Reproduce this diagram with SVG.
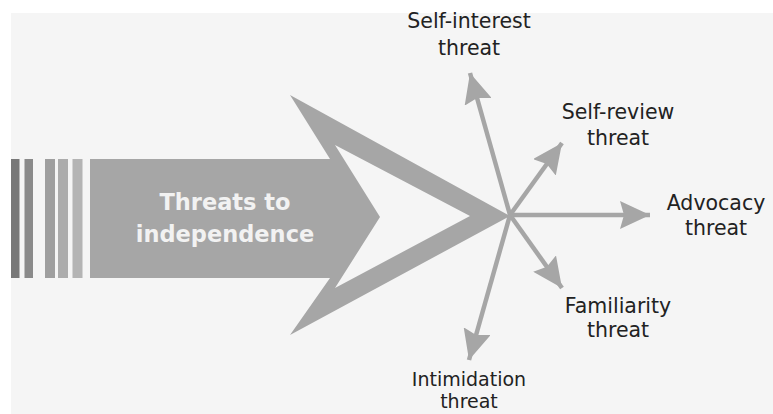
<svg xmlns="http://www.w3.org/2000/svg" width="773" height="414" viewBox="0 0 773 414">
<style>
.lbl{font-family:"DejaVu Sans","Liberation Sans",sans-serif;font-size:20.5px;fill:#222;text-anchor:middle}
.sm{font-size:19px}
.main{font-family:"DejaVu Sans","Liberation Sans",sans-serif;font-size:22.5px;font-weight:bold;fill:#f2f2f2;text-anchor:middle}
.spoke{stroke:#a6a6a6;stroke-width:4.5;fill:none;marker-end:url(#ah)}
</style>
<defs>
<marker id="ah" markerUnits="userSpaceOnUse" markerWidth="30" markerHeight="28" viewBox="0 0 30 28" refX="30" refY="14" orient="auto">
<path d="M0,0 L30,14 L0,28 L4,14 z" fill="#a6a6a6"/>
</marker>
</defs>
<rect x="0" y="0" width="773" height="414" fill="#ffffff"/>
<rect x="11" y="13" width="762" height="401" fill="#f5f5f5"/>
<g id="bars">
<rect x="11" y="159" width="8.5" height="119" fill="#787878"/>
<rect x="24.5" y="159" width="8.5" height="119" fill="#8a8a8a"/>
<rect x="45" y="159" width="10" height="119" fill="#9f9f9f"/>
<rect x="58" y="159" width="10" height="119" fill="#acacac"/>
<rect x="72.5" y="159" width="10" height="119" fill="#b4b4b4"/>
</g>
<g id="main-arrow">
<path d="M90,159 L330,159 L290,95 L510,216 L290,335 L330,278 L90,278 Z M335,145 L380,217 L335,288 L470,216 Z" fill="#a6a6a6" fill-rule="evenodd"/>
<text class="main" x="225" y="210">Threats to</text>
<text class="main" x="225" y="242">independence</text>
</g>
<g id="connectors">
<line class="spoke" x1="510" y1="215" x2="470" y2="73"/>
<line class="spoke" x1="510" y1="215" x2="562" y2="143"/>
<line class="spoke" x1="510" y1="215" x2="650" y2="215"/>
<line class="spoke" x1="510" y1="215" x2="562" y2="288"/>
<line class="spoke" x1="510" y1="215" x2="469" y2="360"/>
</g>
<g id="self-interest"><text class="lbl" x="469" y="28">Self-interest</text><text class="lbl" x="469" y="55">threat</text></g>
<g id="self-review"><text class="lbl" x="618" y="119">Self-review</text><text class="lbl" x="618" y="145">threat</text></g>
<g id="advocacy"><text class="lbl" x="716" y="210">Advocacy</text><text class="lbl" x="716" y="235">threat</text></g>
<g id="familiarity"><text class="lbl" x="618" y="313">Familiarity</text><text class="lbl" x="618" y="337">threat</text></g>
<g id="intimidation"><text class="lbl sm" x="469" y="386">Intimidation</text><text class="lbl sm" x="469" y="408">threat</text></g>
</svg>
